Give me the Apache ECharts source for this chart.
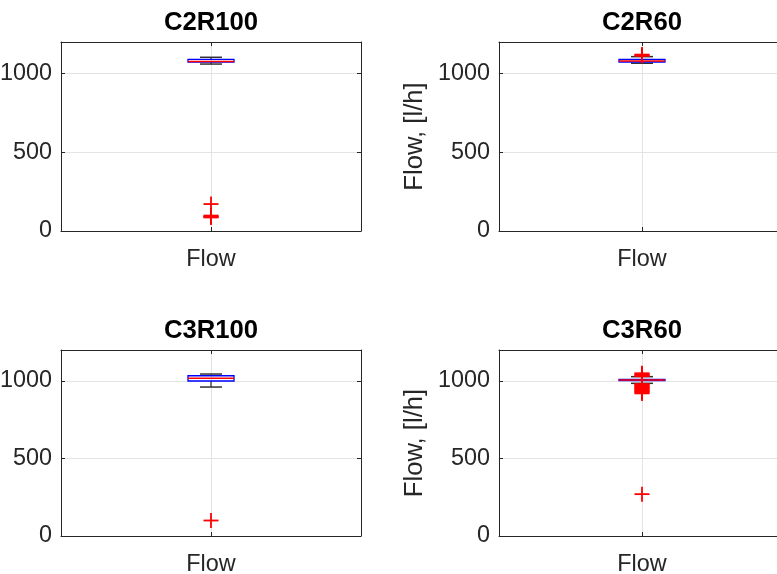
<!DOCTYPE html>
<html lang="en">
<head>
<meta charset="UTF-8">
<title>Flow boxplots</title>
<script src="https://cdn.jsdelivr.net/npm/echarts@6/dist/echarts.min.js"></script>
<style>
html, body { margin: 0; padding: 0; overflow: hidden; background: #fff; }
/* shifted left so the figure is cropped like the original */
#main { position: absolute; left: -30px; top: 0; width: 807px; height: 574px; }
</style>
</head>
<body>
<div id="main"></div>
<script>
// panel order: top-left, top-right, bottom-left, bottom-right
var titles = ['C2R100', 'C2R60', 'C3R100', 'C3R60'];
var xLabels = ['Flow'];
var yTicks = [0, 500, 1000];
var yName = 'Flow, [l/h]';

// [lower whisker, q1, median, q3, upper whisker]
var c2r100Box = [1060, 1073, 1076, 1090, 1103];
var c2r60Box = [1065, 1073, 1080, 1090, 1107];
var c3r100Box = [961, 1000, 1017, 1034, 1045];
var c3r60Box = [985, 1002, 1006, 1010, 1028];

// outliers
var c2r100Out = [171, 98, 93, 89, 86];
var c2r60Out = [1112, 1116, 1120];
var c3r100Out = [100];
var c3r60Out = [1050, 1045, 1040, 1035, 1031, 980, 975, 970, 965, 960, 955, 950, 945, 940, 935, 930, 925, 920, 270];

var boxes = [c2r100Box, c2r60Box, c3r100Box, c3r60Box];
var outs = [c2r100Out, c2r60Out, c3r100Out, c3r60Out];

// pixel layout of each axes box (right column runs past the page edge)
var layout = [
  { left: 91, top: 42, width: 300, height: 189, rightEdge: true },
  { left: 529, top: 42, width: 286, height: 189, rightEdge: false },
  { left: 91, top: 350, width: 300, height: 186, rightEdge: true },
  { left: 529, top: 350, width: 286, height: 186, rightEdge: false }
];

var txt = '#262626';
var font = 'Liberation Sans';
var tickSize = 23.4, labelSize = 25.7;

var main = document.getElementById('main');
var chart = echarts.init(main);

function boxItem(params, api) {
  var x = api.value(0);
  var lo = api.coord([x, api.value(1)]);
  var q1 = api.coord([x, api.value(2)]);
  var md = api.coord([x, api.value(3)]);
  var q3 = api.coord([x, api.value(4)]);
  var hi = api.coord([x, api.value(5)]);
  var cx = lo[0], bw = 23, cw = 11;
  var blk = { stroke: '#000', lineWidth: 1 };
  var cap = { stroke: '#333', lineWidth: 1.5 };
  return {
    type: 'group',
    children: [
      { type: 'line', shape: { x1: cx, y1: lo[1], x2: cx, y2: q1[1] }, style: blk },
      { type: 'line', shape: { x1: cx, y1: q3[1], x2: cx, y2: hi[1] }, style: blk },
      { type: 'line', shape: { x1: cx - cw, y1: lo[1], x2: cx + cw, y2: lo[1] }, style: cap },
      { type: 'line', shape: { x1: cx - cw, y1: hi[1], x2: cx + cw, y2: hi[1] }, style: cap },
      { type: 'rect', shape: { x: cx - bw, y: q3[1], width: 2 * bw, height: q1[1] - q3[1] },
        style: { fill: null, stroke: '#0000ff', lineWidth: 1.3 } },
      { type: 'line', shape: { x1: cx - bw, y1: md[1], x2: cx + bw, y2: md[1] }, style: { stroke: '#ff0000', lineWidth: 1.5 } }
    ]
  };
}

function plusItem(params, api) {
  var p = api.coord([api.value(0), api.value(1)]);
  var s = 7.5;
  var st = { stroke: '#ff0000', lineWidth: 1.8 };
  return {
    type: 'group',
    children: [
      { type: 'line', shape: { x1: p[0] - s, y1: p[1], x2: p[0] + s, y2: p[1] }, style: st },
      { type: 'line', shape: { x1: p[0], y1: p[1] - s, x2: p[0], y2: p[1] + s }, style: st }
    ]
  };
}

var grids = [], xAxes = [], yAxes = [], series = [], titleList = [];

for (var i = 0; i < 4; i++) {
  var L = layout[i];
  grids.push({
    left: L.left, top: L.top, width: L.width, height: L.height,
    containLabel: false, outerBoundsMode: 'none'
  });

  titleList.push({
    text: titles[i],
    left: L.left + L.width / 2,
    textAlign: 'center',
    top: L.top - 32,
    padding: 0,
    textStyle: { fontFamily: font, fontSize: labelSize, fontWeight: 'bold', color: '#000' }
  });

  var frame = { show: true, onZero: false, lineStyle: { color: txt, width: 1 } };
  var tick = { show: true, inside: true, length: 4, lineStyle: { color: txt } };
  var grid = { show: true, lineStyle: { color: '#e3e3e3', width: 1 } };

  xAxes.push({
    gridIndex: i, type: 'value', min: 0, max: 2, interval: 1,
    axisLine: frame, axisTick: tick, splitLine: grid,
    axisLabel: {
      fontFamily: font, fontSize: tickSize, color: txt, margin: 17,
      formatter: function (v) { return v === 1 ? xLabels[0] : ''; }
    }
  });
  xAxes.push({
    gridIndex: i, type: 'value', position: 'top', min: 0, max: 2, interval: 1,
    axisLine: frame, axisTick: tick, splitLine: { show: false }, axisLabel: { show: false }
  });

  yAxes.push({
    gridIndex: i, type: 'value', min: 0, max: 1200, interval: yTicks[1] - yTicks[0],
    axisLine: frame, axisTick: tick, splitLine: grid,
    axisLabel: {
      fontFamily: font, fontSize: tickSize, color: txt, margin: 9, showMaxLabel: false,
      formatter: function (v) { return String(v); }
    },
    name: yName, nameLocation: 'middle', nameGap: 71, nameRotate: 90,
    nameTextStyle: { fontFamily: font, fontSize: labelSize, color: txt }
  });
  yAxes.push({
    gridIndex: i, type: 'value', position: 'right', min: 0, max: 1200, interval: yTicks[1] - yTicks[0],
    show: L.rightEdge,
    axisLine: frame, axisTick: tick, splitLine: { show: false }, axisLabel: { show: false }
  });

  var b = boxes[i];
  series.push({
    type: 'custom', xAxisIndex: 2 * i, yAxisIndex: 2 * i,
    renderItem: boxItem,
    data: [[1, b[0], b[1], b[2], b[3], b[4]]],
    z: 3
  });
  series.push({
    type: 'custom', xAxisIndex: 2 * i, yAxisIndex: 2 * i,
    renderItem: plusItem,
    data: outs[i].map(function (v) { return [1, v]; }),
    z: 4
  });
}

var option = {
  animation: false,
  backgroundColor: '#fff',
  title: titleList,
  grid: grids,
  xAxis: xAxes,
  yAxis: yAxes,
  series: series
};
chart.setOption(option);
</script>
</body>
</html>
